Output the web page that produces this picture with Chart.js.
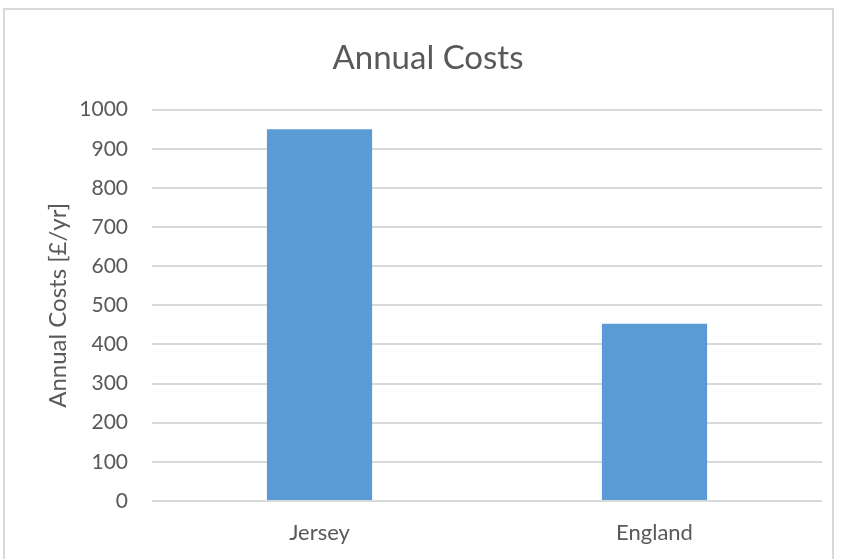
<!DOCTYPE html>
<html>
<head>
<meta charset="utf-8">
<script src="https://cdn.jsdelivr.net/npm/chart.js@4"></script>
<style>
html,body{margin:0;padding:0;background:#fff;width:841px;height:559px;overflow:hidden;}
#frame{position:absolute;left:3px;top:8px;width:831px;height:570px;border:2px solid #d9d9d9;box-sizing:border-box;}
#wrap{position:absolute;left:0;top:0;width:841px;height:559px;}
</style>
</head>
<body>
<div id="frame"></div>
<div id="wrap"><canvas id="c" width="841" height="559"></canvas></div>
<script>
const categories = ["Jersey", "England"];
const annualCosts = [950, 453];
const yTicks = [0, 100, 200, 300, 400, 500, 600, 700, 800, 900, 1000];
const chartTitle = "Annual Costs";
const yAxisTitle = "Annual Costs [£/yr]";

const textColor = "#595959";
const fontFamily = "Lato, 'Open Sans', sans-serif";

new Chart(document.getElementById("c"), {
  type: "bar",
  data: {
    labels: categories,
    datasets: [{
      data: annualCosts,
      backgroundColor: "#5b9bd5",
      borderWidth: 0,
      categoryPercentage: 1,
      barPercentage: 0.314
    }]
  },
  options: {
    responsive: false,
    animation: false,
    devicePixelRatio: 1,
    layout: { padding: { left: 34, right: 19, top: 0, bottom: 0 } },
    plugins: {
      legend: { display: false },
      tooltip: { enabled: false },
      title: {
        display: true,
        text: chartTitle,
        color: textColor,
        font: { family: fontFamily, size: 33, weight: "normal" },
        padding: { top: 39, bottom: 31 }
      }
    },
    scales: {
      x: {
        grid: { display: false, drawTicks: false },
        border: { display: false },
        ticks: {
          color: textColor,
          font: { family: fontFamily, size: 22 },
          padding: 19
        },
        afterFit: s => { s.height = 58; }
      },
      y: {
        min: 0,
        max: 1000,
        afterBuildTicks: s => { s.ticks = yTicks.map(v => ({ value: v })); },
        grid: { color: "#d9d9d9", lineWidth: 2, drawTicks: false },
        border: { display: false },
        ticks: {
          color: textColor,
          font: { family: fontFamily, size: 21 },
          padding: 24,
          callback: v => String(v)
        },
        title: {
          display: true,
          text: yAxisTitle,
          color: textColor,
          font: { family: fontFamily, size: 24 },
          padding: { top: 10, bottom: 0 }
        },
        afterFit: s => { s.width = 118; }
      }
    }
  }
});
</script>
</body>
</html>
